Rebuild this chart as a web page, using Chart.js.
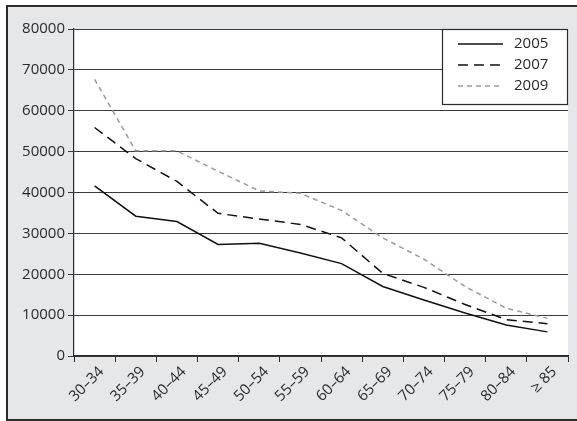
<!DOCTYPE html>
<html>
<head>
<meta charset="utf-8">
<script src="https://cdn.jsdelivr.net/npm/chart.js@4.4.1/dist/chart.umd.min.js"></script>
<style>
  body { margin: 0; background: #fff; }
  #frame {
    position: absolute; left: 6px; top: 5px;
    width: 600px; height: 412px;
    border: 2px solid #2b2b2b;
    background: #e6e7e8;
  }
  #box { position: relative; width: 569px; height: 412px; }
</style>
</head>
<body>
<div id="frame"><div id="box"><canvas id="myChart"></canvas></div></div>
<script>
// age groups and values
const ageGroups = ["30–34", "35–39", "40–44", "45–49", "50–54", "55–59", "60–64", "65–69", "70–74", "75–79", "80–84", "≥ 85"];
const values2005 = [41600, 34200, 32900, 27300, 27600, 25200, 22600, 17000, 13700, 10500, 7600, 5900];
const values2007 = [55900, 48300, 42700, 34900, 33500, 32200, 28900, 20200, 16800, 12600, 8900, 7900];
const values2009 = [67700, 50200, 50200, 45200, 40400, 39800, 35600, 28900, 23700, 17000, 11700, 9200];
const yTicks = [0, 10000, 20000, 30000, 40000, 50000, 60000, 70000, 80000];

const textColor = "#2a2a2a";
const fontFamily = "'Open Sans', sans-serif";

// white plot area
const plotBg = {
  id: "plotBg",
  beforeDraw(chart) {
    const { ctx, chartArea: a } = chart;
    ctx.save();
    ctx.fillStyle = "#fff";
    ctx.fillRect(a.left, a.top, a.right - a.left, a.bottom - a.top);
    ctx.restore();
  },
};

// boxed legend in the top right corner
const boxLegend = {
  id: "boxLegend",
  afterDraw(chart) {
    const { ctx, chartArea: a } = chart;
    const w = 126, h = 76;
    const x = a.right - w, y = a.top;
    ctx.save();
    ctx.fillStyle = "#fff";
    ctx.fillRect(x, y, w, h);
    ctx.strokeStyle = "#2b2b2b";
    ctx.lineWidth = 1.2;
    ctx.strokeRect(x + 0.5, y + 0.5, w - 1, h - 1);
    ctx.font = "15px " + fontFamily;
    ctx.textBaseline = "middle";
    chart.data.datasets.forEach((ds, i) => {
      const ry = y + 15 + i * 21;
      ctx.beginPath();
      ctx.setLineDash(ds.borderDash || []);
      ctx.strokeStyle = ds.borderColor;
      ctx.lineWidth = ds.borderWidth;
      ctx.moveTo(x + 16, ry);
      ctx.lineTo(x + 61, ry);
      ctx.stroke();
      ctx.setLineDash([]);
      ctx.fillStyle = textColor;
      ctx.fillText(ds.label, x + 72, ry);
    });
    ctx.restore();
  },
};

const ctx = document.getElementById("myChart");

new Chart(ctx, {
  type: "line",
  data: {
    labels: ageGroups,
    datasets: [
      {
        label: "2005",
        data: values2005,
        borderColor: "#111",
        borderWidth: 1.5,
      },
      {
        label: "2007",
        data: values2007,
        borderColor: "#111",
        borderWidth: 1.5,
        borderDash: [10, 6],
      },
      {
        label: "2009",
        data: values2009,
        borderColor: "#9a9a9a",
        borderWidth: 1.5,
        borderDash: [5, 4],
      },
    ],
  },
  options: {
    responsive: true,
    maintainAspectRatio: false,
    animation: false,
    layout: { padding: { left: 0, top: 22, right: 9, bottom: 0 } },
    elements: {
      point: { radius: 0, hoverRadius: 0 },
      line: { tension: 0 },
    },
    plugins: {
      legend: { display: false },
      tooltip: { enabled: false },
    },
    scales: {
      x: {
        offset: true,
        afterFit: (s) => { s.height = 63; },
        grid: {
          offset: true,
          drawOnChartArea: false,
          drawTicks: true,
          tickLength: 6,
          color: "#2b2b2b",
        },
        border: { display: true, color: "#2b2b2b", width: 1.2 },
        ticks: {
          autoSkip: false,
          minRotation: 45,
          maxRotation: 45,
          padding: 1,
          labelOffset: 7,
          color: textColor,
          font: { family: fontFamily, size: 15 },
        },
      },
      y: {
        min: 0,
        max: 80000,
        afterFit: (s) => { s.width = 66; },
        afterBuildTicks: (s) => { s.ticks = yTicks.map((v) => ({ value: v })); },
        grid: {
          drawTicks: true,
          tickLength: 6,
          color: "#3a3a3a",
          lineWidth: 1,
        },
        border: { display: true, color: "#2b2b2b", width: 1.2 },
        ticks: {
          padding: 3,
          color: textColor,
          font: { family: fontFamily, size: 15 },
          callback: (v) => String(v),
        },
      },
    },
  },
  plugins: [plotBg, boxLegend],
});
</script>
</body>
</html>
